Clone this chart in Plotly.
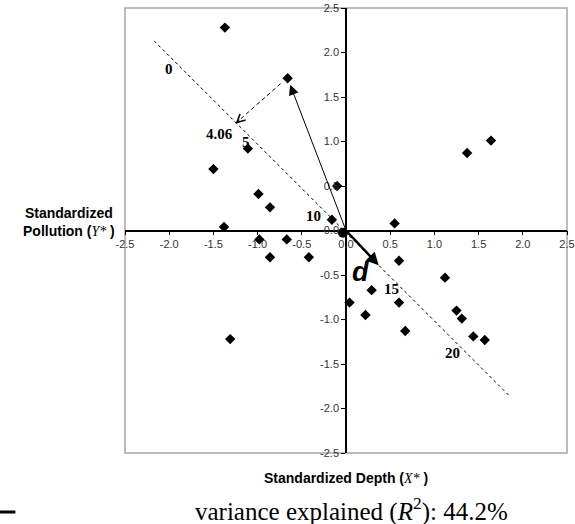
import plotly.graph_objects as go

# ---- data ----
x_vals = [-1.37, -0.66, -1.11, -1.50, -0.99, -0.86, -1.38, -0.98, -0.86, -0.67,
          -0.42, -0.10, -0.16, 0.55, 0.60, 1.12, 0.29, 0.04, 0.60, 0.22,
          0.67, -1.31, 1.25, 1.31, 1.44, 1.57, 1.37, 1.64]
y_vals = [2.28, 1.71, 0.92, 0.69, 0.41, 0.26, 0.04, -0.10, -0.30, -0.10,
          -0.30, 0.50, 0.12, 0.08, -0.34, -0.53, -0.67, -0.81, -0.81, -0.95,
          -1.13, -1.22, -0.90, -0.99, -1.19, -1.23, 0.87, 1.01]

centroid_x = [-0.035]
centroid_y = [-0.025]

# principal direction line (dashed)
line_x = [-2.17, 1.86]
line_y = [2.13, -1.87]

# scale labels along the line
scale_labels = ["0", "4.06", "5", "10", "15", "20"]
scale_x = [-2.00, -1.43, -1.13, -0.37, 0.52, 1.21]
scale_y = [1.81, 1.08, 1.00, 0.16, -0.66, -1.38]

# highlighted point and its projection
pt_x, pt_y = -0.66, 1.71
proj_x, proj_y = -1.25, 1.20
dash_x = [-0.74, -1.23]
dash_y = [1.65, 1.22]

# direction vector d
d_x, d_y = 0.37, -0.39

tick_vals = [-2.5, -2.0, -1.5, -1.0, -0.5, 0.0, 0.5, 1.0, 1.5, 2.0, 2.5]
tick_text = ["-2.5", "-2.0", "-1.5", "-1.0", "-0.5", "0.0", "0.5", "1.0", "1.5", "2.0", "2.5"]

SANS = "Liberation Sans, Arial, sans-serif"
SERIF = "Liberation Serif, Times New Roman, serif"

fig = go.Figure()

fig.add_trace(go.Scatter(x=line_x, y=line_y, mode="lines",
                         line=dict(color="black", width=1, dash="3px,3px"),
                         hoverinfo="skip", showlegend=False))
fig.add_trace(go.Scatter(x=dash_x, y=dash_y, mode="lines",
                         line=dict(color="black", width=1, dash="4px,3px"),
                         hoverinfo="skip", showlegend=False))
fig.add_trace(go.Scatter(x=x_vals, y=y_vals, mode="markers",
                         marker=dict(symbol="diamond", size=8, color="black"),
                         showlegend=False))
fig.add_trace(go.Scatter(x=centroid_x, y=centroid_y, mode="markers",
                         marker=dict(symbol="circle", size=10, color="black"),
                         showlegend=False))

annotations = []
for t, xx, yy in zip(scale_labels, scale_x, scale_y):
    annotations.append(dict(x=xx, y=yy, xref="x", yref="y", text="<b>" + t + "</b>",
                            showarrow=False,
                            font=dict(family=SERIF, size=15, color="black")))

# solid arrow from origin to point
annotations.append(dict(x=pt_x, y=pt_y, xref="x", yref="y", ax=0, ay=0,
                        axref="x", ayref="y", text="", showarrow=True,
                        arrowhead=2, arrowsize=2, arrowwidth=1, arrowcolor="black",
                        standoff=7))
# open arrow head at projection
annotations.append(dict(x=proj_x, y=proj_y, xref="x", yref="y", ax=5.5, ay=-5,
                        text="", showarrow=True, arrowhead=5, arrowsize=1.6,
                        arrowwidth=1, arrowcolor="black"))
# thick d arrow
annotations.append(dict(x=d_x, y=d_y, xref="x", yref="y", ax=0, ay=0,
                        axref="x", ayref="y", text="", showarrow=True,
                        arrowhead=2, arrowsize=1, arrowwidth=2.5, arrowcolor="black"))
annotations.append(dict(x=0.16, y=-0.47, xref="x", yref="y", text="<b><i>d</i></b>",
                        showarrow=False, font=dict(family=SANS, size=27, color="black")))

# axis titles
annotations.append(dict(x=-0.127, y=0.518, xref="paper", yref="paper",
                        xanchor="center", yanchor="middle",
                        text="<b>Standardized<br>Pollution (<span style='font-family:Liberation Serif;font-weight:normal'><i>Y*</i></span> )</b>",
                        showarrow=False, align="center",
                        font=dict(family=SANS, size=14, color="black")))
annotations.append(dict(x=0.5, y=-0.056, xref="paper", yref="paper",
                        xanchor="center", yanchor="middle",
                        text="<b>Standardized Depth (<span style='font-family:Liberation Serif;font-weight:normal'><i>X*</i></span> )</b>",
                        showarrow=False, align="center",
                        font=dict(family=SANS, size=14, color="black")))
annotations.append(dict(x=0.512, y=-0.128, xref="paper", yref="paper",
                        xanchor="center", yanchor="middle",
                        text="variance explained (<i>R</i><sup>2</sup>): 44.2%",
                        showarrow=False,
                        font=dict(family=SERIF, size=25, color="black")))

shapes = [
    dict(type="rect", xref="paper", yref="paper", x0=0, y0=0, x1=1, y1=1,
         line=dict(color="#a6a6a6", width=1.5), layer="below"),
    dict(type="line", xref="paper", yref="paper", x0=-0.283, x1=-0.248,
         y0=-0.1326, y1=-0.1326, line=dict(color="black", width=3)),
]

axis_common = dict(range=[-2.5, 2.5], anchor="free", position=0.5,
                   showline=True, linecolor="black", linewidth=1.5,
                   ticks="outside", ticklen=4, tickcolor="black", tickwidth=1,
                   tickvals=tick_vals, ticktext=tick_text,
                   showgrid=False, zeroline=False, automargin=False,
                   ticklabeloverflow="allow",
                   tickfont=dict(family=SANS, size=11, color="#333333"))

fig.update_layout(
    width=575, height=524,
    margin=dict(l=125, r=8, t=8, b=71, autoexpand=False),
    paper_bgcolor="white", plot_bgcolor="white",
    xaxis=dict(**axis_common, side="bottom"),
    yaxis=dict(**axis_common, side="left"),
    annotations=annotations, shapes=shapes,
    showlegend=False,
)

fig.write_html("out.html", config={"displayModeBar": False},
               post_script="document.body.style.margin='0';")
